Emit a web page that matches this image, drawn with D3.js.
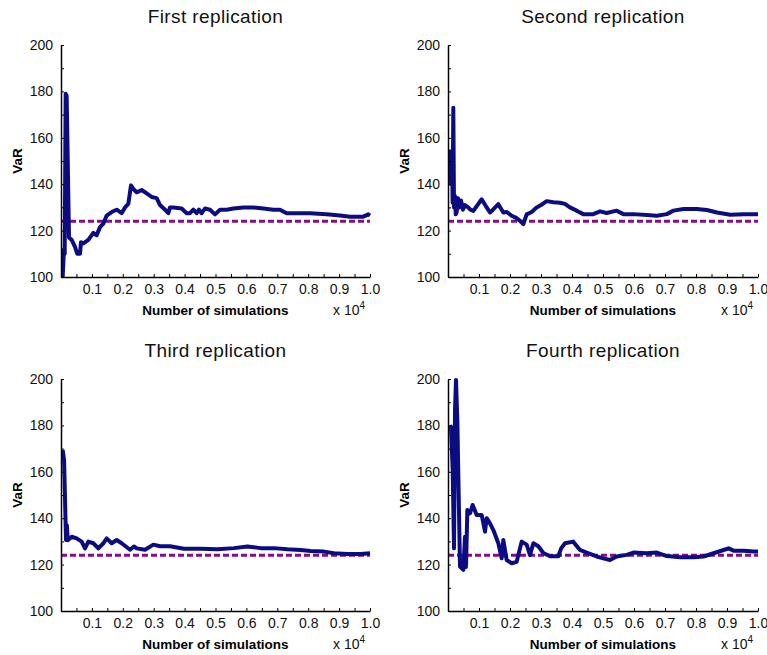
<!DOCTYPE html>
<html>
<head>
<meta charset="utf-8">
<script src="https://cdn.jsdelivr.net/npm/d3@7"></script>
<style>
  body { margin: 0; background: #fff; }
  svg { display: block; font-family: "Liberation Sans", Arial, sans-serif; }
  .tick line { stroke: #000; stroke-width: 1; }
  .tick text { font-size: 14px; fill: #111; }
  .domain { stroke: #000; stroke-width: 1.5; }
</style>
</head>
<body>
<div id="chart"></div>
<script>
// titres des quatre panneaux
const titles = ["First replication", "Second replication", "Third replication", "Fourth replication"];

// VaR estimée selon le nombre de simulations : [simulations, VaR]
const rep1 = [[54,100],[97,112],[120,110],[151,179],[183,178],[259,117],[345,116],[453,113],[528,110],[615,110],
  [647,115],[723,114.5],[885,116],[1046,119],[1154,118],[1262,121.5],[1370,123],[1478,126.5],[1640,128],[1801,129],
  [1963,127.5],[2071,130],[2179,131.5],[2265,139.5],[2341,138],[2449,136.5],[2611,137.5],[2772,136],[2934,134.5],
  [3096,134],[3204,131],[3366,129],[3474,127.5],[3527,130],[3635,130],[3905,129.5],[4067,127.5],[4175,127.5],
  [4283,129],[4390,127.5],[4466,129],[4552,127.5],[4660,129.5],[4822,129],[4984,127],[5146,129],[5361,129],
  [5577,129.5],[5901,130],[6224,130],[6548,129.5],[6872,129],[7087,129],[7303,127.5],[7627,127.5],[8058,127.5],
  [8598,127],[9029,126.5],[9353,126],[9784,126],[9946,127],[10000,126.5]];

const rep2 = [[80,155],[100,140],[130,150],[150,132],[171,173],[194,130],[220,135],[250,127],[280,128],[320,134],
  [360,130],[420,133],[480,129],[550,131],[650,130],[720,129],[817,128.5],[950,131],[1086,133.5],[1200,131],
  [1355,127.8],[1450,129],[1624,131.4],[1785,127.8],[1900,128],[2054,126.4],[2200,125.5],[2323,124.2],[2430,122.8],
  [2538,127],[2700,128],[2860,130],[3000,131],[3183,132.7],[3400,132.2],[3613,132],[3772,131.5],[3933,130],
  [4149,128.6],[4364,127.1],[4688,127.1],[4903,128.3],[5119,127.6],[5442,128.6],[5657,127.1],[5981,127.1],
  [6412,126.7],[6735,126.4],[7058,127.1],[7274,128.6],[7597,129.3],[8028,129.3],[8351,128.9],[8675,127.8],
  [9106,126.8],[9537,127.1],[9860,127.1],[10000,127.1]];

const rep3 = [[55,169.4],[100,165],[162,130.6],[190,137],[220,130.5],[346,132],[508,131.3],[669,129.9],[777,127],
  [884,129.9],[1046,129.2],[1208,127],[1370,129.2],[1478,131.3],[1640,129.2],[1802,130.6],[1963,129.2],[2233,126.4],
  [2362,127.8],[2450,127],[2718,126.4],[2988,128.6],[3204,127.9],[3528,127.9],[3981,126.8],[4520,126.8],[5059,126.6],
  [5599,127.1],[6030,127.8],[6462,127.1],[6893,127.1],[7325,126.6],[7756,126.3],[8080,125.9],[8511,125.6],
  [8835,124.9],[9266,124.6],[9698,124.6],[10000,124.9]];

const rep4 = [[60,180],[97,179.4],[151,160.8],[194,127],[226,186.6],[258,199.6],[301,182.3],[387,119.1],[495,117.7],
  [548,132],[581,119],[624,143.5],[710,142.1],[796,145.7],[925,141.4],[1086,141.4],[1194,134.2],[1247,140],
  [1355,137.8],[1462,134.9],[1624,129.2],[1731,122.7],[1785,130.6],[1892,122],[2054,120.6],[2215,121.2],[2376,129.9],
  [2538,128.6],[2645,124.1],[2753,129.2],[2914,127.9],[3075,125],[3290,123.6],[3559,123.6],[3650,127],[3774,129.2],
  [4041,129.9],[4256,126.3],[4472,125.2],[4795,123.5],[5011,122.7],[5226,122],[5442,123.5],[5765,124.2],[5981,125.2],
  [6412,124.9],[6735,125.2],[7058,123.7],[7489,123.2],[7920,123.2],[8244,123.5],[8567,124.9],[8890,126.3],
  [9052,127],[9213,126],[9537,126],[9860,125.6],[10000,125.6]];

// vraie VaR (ligne pointillée)
const trueVaR = 124;

// graduations
const yTicks = d3.range(100, 201, 10);
const xTicks = d3.range(500, 10001, 500);

const series = [rep1, rep2, rep3, rep4];

const width = 767, height = 655;
const svg = d3.select("#chart").append("svg")
  .attr("width", width)
  .attr("height", height);

// zones de tracé [gauche, droite, haut, bas]
const boxes = [[61, 370, 45, 277], [448, 758, 45, 277], [61, 370, 379, 611], [448, 758, 379, 611]];

series.forEach((data, i) => {
  const [x0, x1, y0, y1] = boxes[i];
  const x = d3.scaleLinear().domain([0, 10000]).range([x0, x1]);
  const y = d3.scaleLinear().domain([100, 200]).range([y1, y0]);

  const g = svg.append("g");

  g.append("clipPath").attr("id", "clip" + i)
    .append("rect")
    .attr("x", x0).attr("y", y0 - 2)
    .attr("width", x1 - x0 + 3).attr("height", y1 - y0 + 3);

  // titre
  g.append("text")
    .attr("x", (x0 + x1) / 2)
    .attr("y", y0 - 22)
    .attr("text-anchor", "middle")
    .style("font-size", "19px")
    .style("letter-spacing", "0.4px")
    .style("fill", "#111")
    .text(titles[i]);

  // ligne de la vraie VaR
  g.append("line")
    .attr("clip-path", "url(#clip" + i + ")")
    .attr("x1", x(0)).attr("x2", x(10000))
    .attr("y1", y(trueVaR)).attr("y2", y(trueVaR))
    .attr("stroke", "#8b0a8b")
    .attr("stroke-width", 3)
    .attr("stroke-dasharray", "6,3");

  // estimation de la VaR
  const line = d3.line().x(d => x(d[0])).y(d => y(d[1]));
  g.append("path")
    .datum(data)
    .attr("clip-path", "url(#clip" + i + ")")
    .attr("d", line)
    .attr("fill", "none")
    .attr("stroke", "#0c0c82")
    .attr("stroke-width", 4)
    .attr("stroke-linejoin", "round");

  // axes
  g.append("g")
    .attr("transform", `translate(${x0},0)`)
    .call(d3.axisLeft(y).tickValues(yTicks).tickSizeInner(-3).tickSizeOuter(0).tickPadding(8)
      .tickFormat(d => d % 20 === 0 ? d : ""));

  g.append("g")
    .attr("transform", `translate(0,${y1})`)
    .call(d3.axisBottom(x).tickValues(xTicks).tickSizeInner(-3).tickSizeOuter(0).tickPadding(7)
      .tickFormat(d => d % 1000 === 0 ? (d / 10000).toFixed(1) : ""));

  // libellés
  g.append("text")
    .attr("transform", `translate(${x0 - 39},${(y0 + y1) / 2}) rotate(-90)`)
    .attr("text-anchor", "middle")
    .style("font-size", "13.5px")
    .style("font-weight", "bold")
    .text("VaR");

  g.append("text")
    .attr("x", (x0 + x1) / 2)
    .attr("y", y1 + 38)
    .attr("text-anchor", "middle")
    .style("font-size", "13.5px")
    .style("font-weight", "bold")
    .text("Number of simulations");

  const exp = g.append("text")
    .attr("x", x1 - 37)
    .attr("y", y1 + 38)
    .style("font-size", "14px")
    .style("fill", "#111");
  exp.append("tspan").text("x 10");
  exp.append("tspan").attr("dy", -6).style("font-size", "10px").text("4");
});
</script>
</body>
</html>
